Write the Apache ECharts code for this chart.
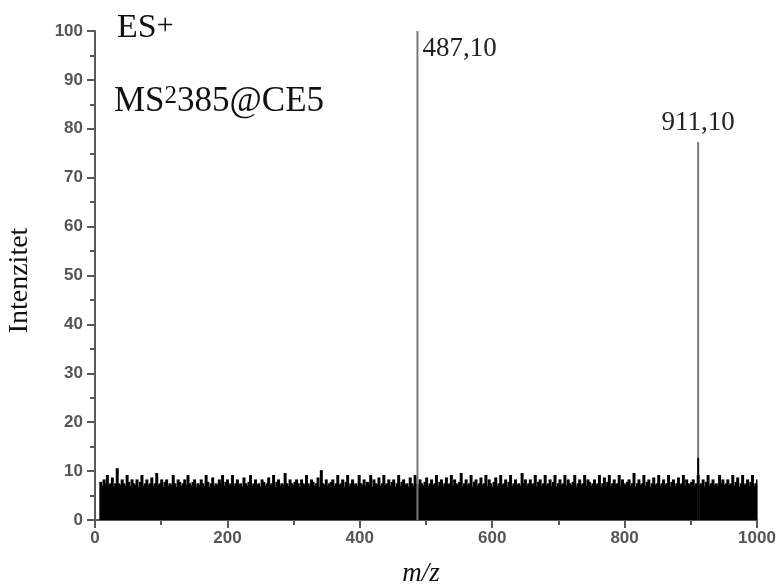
<!DOCTYPE html>
<html>
<head>
<meta charset="utf-8">
<script src="https://cdn.jsdelivr.net/npm/echarts@6/dist/echarts.min.js"></script>
<style>
html,body{margin:0;padding:0;background:#fff;}
#chart{width:779px;height:584px;}
</style>
</head>
<body>
<div id="chart"></div>
<script>
// baseline noise tops (m/z 8 .. 1000, even grid)
var noiseStart = 8, noiseStep = 2.486;
var noise = [
	7.8,7,8.3,7.5,9.2,7.2,7.5,8.7,6.8,7.5,10.6,7.5,7.2,8.3,7.5,7,9.2,7.8,7,8.3,
	7.5,7.2,8.3,6.8,7.8,9.2,7,7.5,8.3,7.2,7.5,8.7,7,7.5,9.6,7.2,7.5,8.3,6.8,7.8,
	8.3,7,7.5,7.2,9.2,7.5,6.8,8.3,7.8,7,7.5,8.3,7.2,9.2,7.5,7,7.8,8.3,6.8,7.5,
	7.2,8.3,7.5,7,9.2,7.8,6.8,7.5,8.7,7,7.5,7.2,8.3,7.5,9.2,7,7.8,8.3,7.2,7.5,
	9.2,7,7.5,8.3,7.2,7.5,6.8,8.7,7.5,7,7.8,9.2,7,7.5,8.3,7.2,7.5,6.8,8.3,7.8,
	7,7.5,8.7,7.2,7.5,9.2,6.8,7.8,8.3,7,7.5,7.2,9.6,7.5,7,8.3,7.5,7.2,7.8,8.3,
	7.5,6.8,8.3,7.5,7.2,9.2,7.5,7,8.3,7.8,7,7.5,8.7,6.8,10.2,7.5,7.2,8.3,7,7.5,
	7.8,8.3,7,7.5,9.2,7.2,7.5,8.3,6.8,7.8,9.2,7,7.5,8.3,7.2,7.5,7,9.2,7.5,7.2,
	8.3,7,7.8,7.5,9.2,6.8,8.3,7.5,7.2,8.7,7,7.5,9.2,7.2,7.5,8.3,7,7.8,8.3,6.8,
	7.5,9.2,7,7.8,8.3,7.2,7.5,6.8,8.7,7.5,7,9.2,7.5,7.2,8.3,7.5,7,7.8,8.7,7,
	7.5,8.3,7.2,7.5,9.2,7,7.8,8.3,6.8,7.5,8.7,7.2,7.5,9.2,7,8.3,7.5,7.2,7.8,9.6,
	7,7.5,8.3,7.2,7.5,9.2,6.8,7.8,8.3,7,7.5,8.7,7.2,7.5,9.2,7,8.3,7.5,6.8,7.8,
	8.7,7,7.5,9.2,7.2,7.5,8.3,6.8,7.8,9.2,7,7.5,8.3,7.2,7.5,7,9.6,7.5,8.3,7,
	7.5,8.3,7.2,7.5,9.2,6.8,7.8,8.3,7,7.5,9.2,7.2,7.5,8.3,7,7.8,9.2,6.8,7.5,8.3,
	7.2,7.5,9.2,7,8.3,7.5,7.2,7.8,9.2,6.8,7.5,8.3,7.2,7.5,9.2,7,8.3,7.8,7,7.5,
	8.3,7.2,7.5,9.2,6.8,7.5,8.7,7,7.8,9.2,7,7.5,8.3,7.2,7.5,9.2,6.8,8.3,7.5,7.2,
	7.8,8.3,7,7.5,9.6,6.8,7.5,8.3,7.2,7.5,9.2,7,7.8,8.3,6.8,7.5,8.7,7.2,7.5,9.2,
	7,7.5,8.3,7.2,7.5,9.2,6.8,7.8,8.3,7,7.5,8.7,7.2,7.5,9.2,7,8.3,7.5,7.2,7.8,
	8.3,7,7.5,9.2,7.2,7.5,8.3,6.8,7.8,9.2,7,7.5,8.3,7.2,7.5,7,9.2,7.5,8.3,7.2,
	7.5,8.3,7.2,7.5,9.2,7,7.8,8.7,6.8,7.5,9.2,7.2,7.5,8.3,7,7.8,9.2,7,7.5,8.3
];
// peaks
var peakMz = [487.1, 911.1];
var peakInt = [100, 77.3];
var peakLabels = ["487,10", "911,10"];
// small dark spike under the 911 peak
var spikeMz = [911.1];
var spikeInt = [12.7];

var xTicks = {min: 0, max: 1000, interval: 200};
var yTicks = {min: 0, max: 100, interval: 10};

var noiseData = [];
for (var i = 0; i < noise.length; i++) {
	noiseData.push([noiseStart + i * noiseStep, noise[i]]);
}
var peakData = [];
for (var j = 0; j < peakMz.length; j++) {
	peakData.push({value: [peakMz[j], peakInt[j]], label: {formatter: peakLabels[j]}});
}
// label placement for each peak
peakData[0].label.position = [6, 4];
peakData[0].label.align = "left";
peakData[1].label.position = "top";
peakData[1].label.distance = 6;

var spikeData = [];
for (var k = 0; k < spikeMz.length; k++) {
	spikeData.push([spikeMz[k], spikeInt[k]]);
}

var axisGray = "#5a5a5a";
var labelGray = "#555";
var serif = "'Liberation Serif','Times New Roman',serif";
var sansB = "'Liberation Sans',Arial,sans-serif";

var myChart = echarts.init(document.getElementById("chart"));
myChart.setOption({
	animation: false,
	backgroundColor: "#fff",
	grid: {left: 95, right: 22, top: 31, bottom: 64, containLabel: false, outerBoundsMode: "none"},
	graphic: [
		{type: "text", left: 117, top: 11, style: {
			text: "{n|ES}{s|+}",
			rich: {
				n: {fontFamily: serif, fontSize: 34, fill: "#111", verticalAlign: "bottom"},
				s: {fontFamily: serif, fontSize: 30, fill: "#111", verticalAlign: "top"}
			}
		}},
		{type: "text", left: 114, top: 84, style: {
			text: "{n|MS}{s|2}{n|385@CE5}",
			rich: {
				n: {fontFamily: serif, fontSize: 35, fill: "#111", verticalAlign: "bottom"},
				s: {fontFamily: serif, fontSize: 25, fill: "#111", verticalAlign: "top"}
			}
		}}
	],
	xAxis: {
		type: "value",
		min: xTicks.min, max: xTicks.max, interval: xTicks.interval,
		name: "m/z",
		nameLocation: "middle",
		nameGap: 40,
		nameTextStyle: {fontFamily: serif, fontStyle: "italic", fontSize: 27, color: "#111", padding: [0, 10, 0, 0]},
		axisLine: {onZero: false, lineStyle: {color: axisGray, width: 2}},
		axisTick: {show: true, inside: false, length: 8, lineStyle: {color: axisGray, width: 2}},
		minorTick: {show: true, splitNumber: 2, length: 5, lineStyle: {color: axisGray, width: 2}},
		axisLabel: {color: labelGray, fontFamily: sansB, fontWeight: "bold", fontSize: 17, margin: 10,
			formatter: function(v) { return String(v); }},
		splitLine: {show: false}
	},
	yAxis: {
		type: "value",
		min: yTicks.min, max: yTicks.max, interval: yTicks.interval,
		name: "Intenzitet",
		nameLocation: "middle",
		nameGap: 61,
		nameTextStyle: {fontFamily: serif, fontSize: 28, color: "#111", padding: [0, 10, 0, 0]},
		axisLine: {show: true, lineStyle: {color: axisGray, width: 2}},
		axisTick: {show: true, inside: false, length: 8, lineStyle: {color: axisGray, width: 2}},
		minorTick: {show: true, splitNumber: 2, length: 5, lineStyle: {color: axisGray, width: 2}},
		axisLabel: {color: labelGray, fontFamily: sansB, fontWeight: "bold", fontSize: 17, margin: 12},
		splitLine: {show: false}
	},
	series: [
		{
			type: "bar",
			data: noiseData,
			barWidth: 3,
			barGap: "-100%",
			itemStyle: {color: "#000"},
			z: 2
		},
		{
			type: "bar",
			data: peakData,
			barWidth: 2,
			barGap: "-100%",
			itemStyle: {color: "#7a7a7a"},
			label: {show: true, fontFamily: serif, fontSize: 27, color: "#222"},
			z: 3
		},
		{
			type: "bar",
			data: spikeData,
			barWidth: 2,
			barGap: "-100%",
			itemStyle: {color: "#000"},
			z: 4
		}
	]
});
</script>
</body>
</html>
